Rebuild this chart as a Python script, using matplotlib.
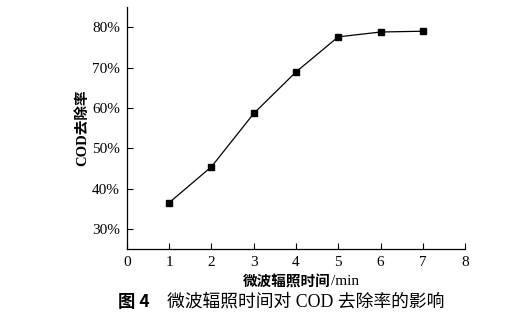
import matplotlib.pyplot as plt
from matplotlib.ticker import FuncFormatter

# COD removal rate vs microwave irradiation time
time_min = [1, 2, 3, 4, 5, 6, 7]
cod_removal = [36.5, 45.4, 58.6, 68.9, 77.6, 78.8, 79.0]

x_ticks = [0, 1, 2, 3, 4, 5, 6, 7, 8]
y_ticks = [30, 40, 50, 60, 70, 80]

serif = ["Liberation Serif", "Noto Sans CJK SC"]
cjk = ["Noto Sans CJK SC", "Liberation Serif"]

fig = plt.figure(figsize=(5.28, 3.26), dpi=100)
ax = fig.add_axes([0.2405, 0.2362, 0.6402, 0.7423])

ax.plot(time_min, cod_removal, color="black", linewidth=0.9,
        marker="s", markersize=5, markerfacecolor="black")

ax.set_xlim(0, 8)
ax.set_ylim(25, 85)
ax.set_xticks(x_ticks)
ax.set_yticks(y_ticks)
ax.yaxis.set_major_formatter(FuncFormatter(lambda v, p: f"{v:.0f}%"))

for s in ["top", "right"]:
    ax.spines[s].set_visible(False)
for s in ["left", "bottom"]:
    ax.spines[s].set_linewidth(0.9)
ax.tick_params(direction="in", length=4, width=0.8, labelsize=11, pad=5)
for lbl in ax.get_xticklabels() + ax.get_yticklabels():
    lbl.set_family(serif)

ax.set_ylabel("COD去除率", family=serif, fontsize=10.5, fontweight="bold",
              labelpad=2)


def text_row(y, parts):
    """Draw several text pieces side by side starting at x=parts[0]."""
    x0 = parts[0]
    r = fig.canvas.get_renderer()
    for s, kw in parts[1:]:
        t = fig.text(x0, y, s, ha="left", va="center", **kw)
        bb = t.get_window_extent(renderer=r)
        x0 += bb.width / fig.bbox.width


# x-axis title: bold Chinese + regular unit
text_row(0.135, [0.46,
                 ("微波辐照时间", dict(family=cjk, fontsize=10.5, fontweight="bold")),
                 ("/min", dict(family=serif, fontsize=11))])

# figure caption
text_row(0.075, [0.223,
                 ("图 4", dict(family=cjk, fontsize=12.5, fontweight="bold")),
                 ("    微波辐照时间对 COD 去除率的影响", dict(family=serif, fontsize=12.8))])

fig.savefig("out.png", dpi=100)
